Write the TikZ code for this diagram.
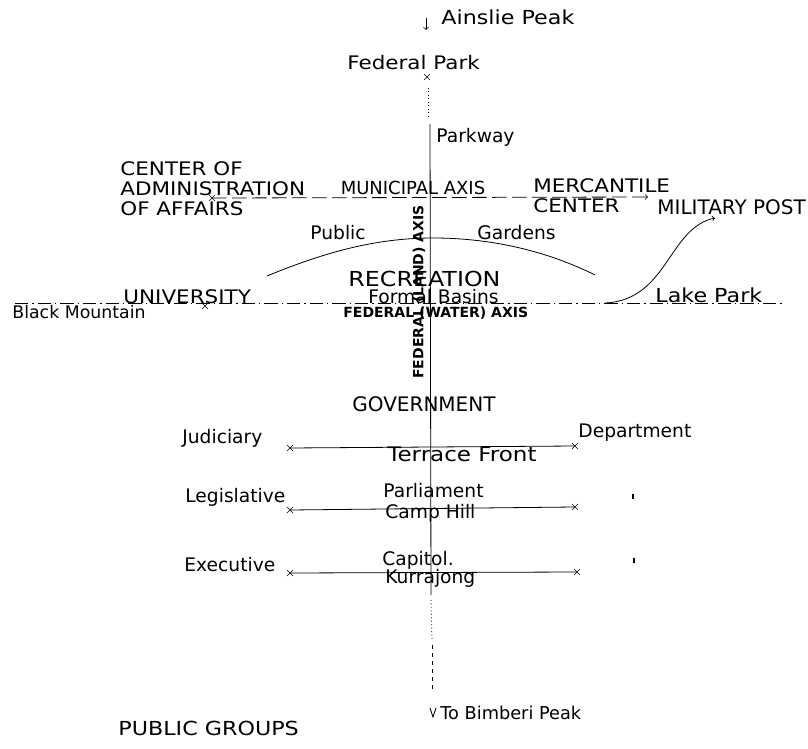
\documentclass[tikz,border=0pt]{standalone}
\usepackage{fontspec}
\setmainfont{DejaVu Sans}
\newfontfamily\wideface{DejaVu Sans}[FakeStretch=1.15]
\usetikzlibrary{shapes.misc}

\tikzset{
  lbl/.style={font=\fontsize{14}{15}\selectfont, inner sep=0pt, anchor=west},
  caps/.style={lbl, font=\wideface\fontsize{14}{15}\selectfont, align=left},
  axlbl/.style={font=\fontsize{10.5}{12}\selectfont\bfseries, inner sep=0pt},
  xmark/.style={cross out, draw, minimum size=4pt, inner sep=0pt, line width=0.5pt},
  axis/.style={dash pattern=on 10pt off 3pt on 1pt off 3pt},
}

\begin{document}
\begin{tikzpicture}[x=0.75pt,y=-0.75pt,line width=0.6pt]
\useasboundingbox (0,0) rectangle (808,749);

% north-south line
\coordinate (aTop) at (426,18);
\coordinate (aTopEnd) at (426,30);
\draw[->] (aTop) -- (aTopEnd);
\node[xmark] (fpx) at (427,77) {};
\coordinate (dotA) at (428,88);
\coordinate (dotB) at (428,118);
\draw[dotted] (dotA) -- (dotB);
\coordinate (landN) at (430,124);
\coordinate (landS) at (431,595);
\draw (landN) -- (landS);
\coordinate (sA) at (431,600);
\coordinate (sB) at (432,640);
\coordinate (sC) at (432,645);
\coordinate (sD) at (432,690);
\draw[dotted] (sA) -- (sB);
\draw[dashed] (sC) -- (sD);
\coordinate (vL) at (430,708);
\coordinate (vM) at (433,717);
\coordinate (vR) at (436,708);
\draw (vL) -- (vM) -- (vR);

% municipal and water axes
\node[xmark] (adx) at (212,198) {};
\coordinate (mcEnd) at (648,197);
\draw[dash pattern=on 11pt off 4pt,->] (adx.center) -- (mcEnd);
\coordinate (wW) at (15,303);
\coordinate (wE) at (785,303);
\draw[axis] (wW) -- (wE);
\node[xmark] (unx) at (205,306) {};

% gardens arc and curve to the post
\coordinate (gW) at (267,276);
\coordinate (gTop) at (433,238);
\coordinate (gE) at (595,275);
\draw (gW) .. controls (330,250) and (380,238) .. (gTop) .. controls (500,238) and (555,255) .. (gE);
\coordinate (lp) at (605,303);
\coordinate (mp) at (715,218);
\draw[->] (lp) .. controls (668,300) and (668,228) .. (mp);

% government fronts
\node[xmark] (jl) at (290,448) {};
\node[xmark] (jr) at (575,446) {};
\node[xmark] (ll) at (290,510) {};
\node[xmark] (lr) at (575,507) {};
\node[xmark] (el) at (290,573) {};
\node[xmark] (er) at (577,572) {};
\draw (jl.center) -- (jr.center);
\draw (ll.center) -- (lr.center);
\draw (el.center) -- (er.center);
\coordinate (mkA) at (633,494);
\coordinate (mkB) at (633,499);
\coordinate (mkC) at (634,558);
\coordinate (mkD) at (634,563);
\draw[line width=1.6pt] (mkA) -- (mkB);
\draw[line width=1.6pt] (mkC) -- (mkD);

% labels
\node[caps,font=\wideface\fontsize{14.5}{15}\selectfont] (ainslie) at (441,17) {Ainslie Peak};
\node[caps] (fedpark) at (347,63) {Federal Park};
\node[lbl] (parkway) at (436,137) {Parkway};
\node[caps] (admin) at (120,189) {CENTER OF\\ADMINISTRATION\\OF AFFAIRS};
\node[lbl,anchor=center,font=\fontsize{13.5}{14}\selectfont] (municipal) at (413,188) {MUNICIPAL AXIS};
\node[caps] (mercantile) at (533,196) {MERCANTILE\\CENTER};
\node[lbl,font=\fontsize{15}{16}\selectfont] (military) at (657,207) {MILITARY POST};
\node[lbl] (public) at (310,233) {Public};
\node[lbl] (gardens) at (477,233) {Gardens};
\node[caps,font=\wideface\fontsize{15.5}{16}\selectfont] (recreation) at (348,279) {RECREATION};
\node[lbl] (formal) at (368,297) {Formal Basins};
\node[axlbl,anchor=west] (water) at (343,313) {FEDERAL (WATER) AXIS};
\node[axlbl,rotate=90] (land) at (419,292) {FEDERAL (LAND) AXIS};
\node[caps] (university) at (123,297) {UNIVERSITY};
\node[lbl,font=\fontsize{13}{14}\selectfont] (blackmtn) at (12,312) {Black Mountain};
\node[caps,font=\wideface\fontsize{14.5}{15}\selectfont] (lakepark) at (655,295) {Lake Park};
\node[lbl,font=\fontsize{15}{16}\selectfont] (government) at (352,404) {GOVERNMENT};
\node[lbl] (judiciary) at (182,438) {Judiciary};
\node[lbl] (department) at (578,433) {Department};
\node[caps,font=\wideface\fontsize{15}{16}\selectfont] (terrace) at (387,454) {Terrace Front};
\node[lbl] (legislative) at (185,497) {Legislative};
\node[lbl] (parliament) at (383,491) {Parliament};
\node[lbl] (camphill) at (385,513) {Camp Hill};
\node[lbl] (executive) at (184,565) {Executive};
\node[lbl] (capitol) at (382,560) {Capitol.};
\node[lbl] (kurrajong) at (385,578) {Kurrajong};
\node[lbl,font=\fontsize{13.3}{14}\selectfont] (bimberi) at (440,713) {To Bimberi Peak};
\node[caps,font=\wideface\fontsize{14.5}{15}\selectfont] (groups) at (118,728) {PUBLIC GROUPS};
\end{tikzpicture}
\end{document}
